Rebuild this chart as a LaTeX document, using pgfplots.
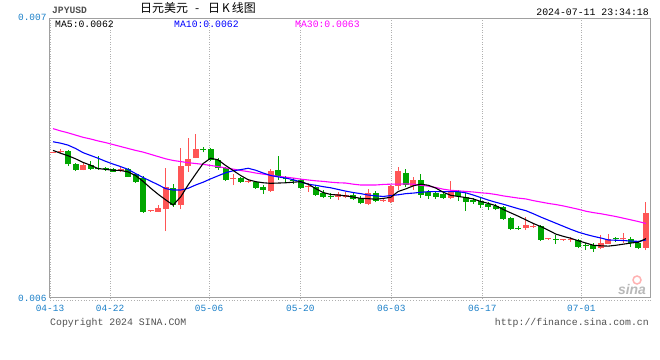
\documentclass[border=0pt]{standalone}
\usepackage{pgfplots}
\pgfplotsset{compat=1.18}
\usepackage{pgfplotstable}
\usepackage{fontspec}
\setmainfont{Liberation Sans}
\setmonofont{Liberation Mono}
\newfontfamily\cjk{Noto Sans CJK SC}
\definecolor{candlered}{RGB}{255,85,85}
\definecolor{candlegreen}{RGB}{0,166,0}
\definecolor{tickblue}{RGB}{26,127,200}
\definecolor{framegray}{RGB}{160,160,160}
\definecolor{gridgray}{RGB}{176,176,176}
\definecolor{txtgray}{RGB}{80,80,80}
\definecolor{mablue}{RGB}{0,0,255}
\definecolor{mamag}{RGB}{255,0,255}

% rising candles (red): index, open, high, low, close
\pgfplotstableread{
i o h l c
0 0.006521 0.006525 0.006520 0.006523
1 0.006522 0.006534 0.006521 0.006527
4 0.006459 0.006486 0.006457 0.006477
9 0.006455 0.006468 0.006452 0.006461
13 0.006311 0.006315 0.006310 0.006314
14 0.006309 0.006333 0.006308 0.006323
15 0.006319 0.006465 0.006240 0.006397
17 0.006333 0.006537 0.006318 0.006474
18 0.006474 0.006572 0.006453 0.006498
19 0.006503 0.006587 0.006501 0.006534
24 0.006427 0.006444 0.006405 0.006429
26 0.006415 0.006427 0.006413 0.006419
29 0.006385 0.006462 0.006381 0.006456
34 0.006399 0.006411 0.006381 0.006403
38 0.006363 0.006379 0.006351 0.006372
39 0.006361 0.006381 0.006357 0.006368
42 0.006337 0.006391 0.006333 0.006377
44 0.006348 0.006357 0.006344 0.006351
45 0.006345 0.006405 0.006339 0.006401
46 0.006401 0.006471 0.006387 0.006456
48 0.006401 0.006435 0.006387 0.006423
53 0.006360 0.006419 0.006354 0.006379
63 0.006250 0.006289 0.006244 0.006262
64 0.006256 0.006270 0.006250 0.006259
66 0.006210 0.006214 0.006209 0.006213
68 0.006207 0.006210 0.006205 0.006209
69 0.006207 0.006218 0.006200 0.006209
73 0.006178 0.006226 0.006176 0.006198
74 0.006194 0.006229 0.006193 0.006210
76 0.006210 0.006234 0.006196 0.006214
79 0.006180 0.006345 0.006172 0.006306
}\upcandles

% falling candles (green): index, open, high, low, close
\pgfplotstableread{
i o h l c
2 0.006527 0.006529 0.006473 0.006479
3 0.006480 0.006485 0.006455 0.006459
5 0.006477 0.006491 0.006459 0.006463
6 0.006465 0.006509 0.006459 0.006461
7 0.006463 0.006470 0.006456 0.006461
8 0.006462 0.006466 0.006452 0.006453
10 0.006461 0.006465 0.006433 0.006435
11 0.006443 0.006447 0.006413 0.006417
12 0.006429 0.006437 0.006306 0.006309
16 0.006393 0.006408 0.006327 0.006333
20 0.006533 0.006542 0.006522 0.006530
21 0.006534 0.006539 0.006491 0.006495
22 0.006495 0.006501 0.006459 0.006465
23 0.006465 0.006468 0.006419 0.006423
25 0.006431 0.006435 0.006412 0.006415
27 0.006415 0.006419 0.006391 0.006395
28 0.006398 0.006405 0.006372 0.006387
30 0.006459 0.006510 0.006423 0.006433
31 0.006429 0.006437 0.006416 0.006425
32 0.006423 0.006429 0.006408 0.006419
33 0.006423 0.006427 0.006391 0.006393
35 0.006399 0.006403 0.006366 0.006369
36 0.006377 0.006387 0.006357 0.006363
37 0.006367 0.006375 0.006355 0.006363
40 0.006369 0.006381 0.006351 0.006355
41 0.006360 0.006366 0.006336 0.006339
43 0.006375 0.006384 0.006343 0.006349
47 0.006449 0.006461 0.006399 0.006405
49 0.006423 0.006444 0.006360 0.006369
50 0.006381 0.006387 0.006354 0.006367
51 0.006377 0.006384 0.006354 0.006363
52 0.006372 0.006381 0.006354 0.006360
54 0.006381 0.006387 0.006349 0.006366
55 0.006363 0.006375 0.006313 0.006345
56 0.006351 0.006360 0.006337 0.006343
57 0.006349 0.006360 0.006322 0.006333
58 0.006337 0.006343 0.006315 0.006327
59 0.006330 0.006336 0.006315 0.006319
60 0.006327 0.006330 0.006280 0.006283
61 0.006286 0.006289 0.006245 0.006247
62 0.006251 0.006258 0.006244 0.006248
65 0.006259 0.006262 0.006204 0.006208
67 0.006212 0.006226 0.006193 0.006209
70 0.006208 0.006210 0.006178 0.006184
71 0.006189 0.006196 0.006172 0.006186
72 0.006190 0.006196 0.006166 0.006176
75 0.006214 0.006218 0.006202 0.006210
77 0.006210 0.006220 0.006184 0.006196
78 0.006196 0.006202 0.006175 0.006180
}\downcandles

% moving averages
\pgfplotstableread{
i ma5 ma10 ma30
0 0.006529 0.006560 0.006607
1 0.006519 0.006555 0.006599
2 0.006510 0.006548 0.006592
3 0.006499 0.006536 0.006584
4 0.006486 0.006521 0.006576
5 0.006476 0.006511 0.006570
6 0.006464 0.006501 0.006563
7 0.006461 0.006490 0.006557
8 0.006458 0.006480 0.006550
9 0.006457 0.006471 0.006543
10 0.006452 0.006461 0.006536
11 0.006439 0.006446 0.006529
12 0.006418 0.006432 0.006523
13 0.006394 0.006419 0.006515
14 0.006372 0.006406 0.006507
15 0.006352 0.006392 0.006499
16 0.006333 0.006387 0.006493
17 0.006362 0.006387 0.006489
18 0.006405 0.006393 0.006485
19 0.006444 0.006405 0.006482
20 0.006482 0.006415 0.006479
21 0.006501 0.006427 0.006475
22 0.006495 0.006438 0.006471
23 0.006475 0.006449 0.006466
24 0.006457 0.006456 0.006462
25 0.006439 0.006460 0.006457
26 0.006424 0.006465 0.006453
27 0.006417 0.006458 0.006448
28 0.006413 0.006448 0.006444
29 0.006411 0.006439 0.006440
30 0.006412 0.006434 0.006436
31 0.006413 0.006430 0.006433
32 0.006415 0.006424 0.006430
33 0.006417 0.006416 0.006426
34 0.006408 0.006408 0.006423
35 0.006392 0.006404 0.006420
36 0.006378 0.006399 0.006418
37 0.006371 0.006395 0.006415
38 0.006369 0.006389 0.006413
39 0.006366 0.006383 0.006412
40 0.006362 0.006378 0.006408
41 0.006357 0.006374 0.006405
42 0.006356 0.006369 0.006405
43 0.006354 0.006366 0.006405
44 0.006357 0.006364 0.006407
45 0.006361 0.006367 0.006408
46 0.006382 0.006370 0.006408
47 0.006391 0.006374 0.006409
48 0.006402 0.006376 0.006408
49 0.006408 0.006379 0.006404
50 0.006404 0.006381 0.006401
51 0.006394 0.006381 0.006396
52 0.006379 0.006381 0.006390
53 0.006368 0.006381 0.006386
54 0.006364 0.006381 0.006384
55 0.006360 0.006377 0.006382
56 0.006355 0.006369 0.006380
57 0.006346 0.006360 0.006377
58 0.006339 0.006351 0.006375
59 0.006331 0.006343 0.006371
60 0.006317 0.006336 0.006366
61 0.006305 0.006328 0.006362
62 0.006293 0.006320 0.006358
63 0.006280 0.006313 0.006355
64 0.006267 0.006302 0.006349
65 0.006256 0.006290 0.006344
66 0.006243 0.006279 0.006339
67 0.006229 0.006268 0.006335
68 0.006221 0.006257 0.006330
69 0.006214 0.006246 0.006324
70 0.006205 0.006236 0.006318
71 0.006197 0.006228 0.006311
72 0.006189 0.006221 0.006306
73 0.006187 0.006215 0.006302
74 0.006186 0.006208 0.006297
75 0.006189 0.006207 0.006292
76 0.006193 0.006206 0.006286
77 0.006197 0.006204 0.006280
78 0.006200 0.006203 0.006274
79 0.006213 0.006208 0.006267
}\matable

\begin{document}
\begin{tikzpicture}
\begin{axis}[
  at={(50bp,62bp)}, anchor=south west,
  scale only axis, width=600bp, height=279bp,
  xmin=-0.4, xmax=79.54, ymin=0.006, ymax=0.007,
  axis line style={draw=framegray, line width=1bp},
  xtick={-0.4,7.6,20.8,32.95,45.07,57.2,70.4},
  xticklabels={04-13,04-22,05-06,05-20,06-03,06-17,07-01},
  xmajorgrids, grid style={draw=gridgray, dotted, line width=0.8bp},
  ytick={0.006,0.007}, yticklabels={0.006,\raisebox{3bp}{0.007}},
  scaled y ticks=false,
  major tick length=0pt,
  xticklabel style={font=\fontsize{9.5}{10}\selectfont\ttfamily, text=tickblue, anchor=center, yshift=-10.5bp},
  yticklabel style={font=\fontsize{9.5}{10}\selectfont\ttfamily, text=tickblue},
  /pgf/number format/assume math mode=true,
  clip=true,
]
% wicks
\addplot[draw=none, mark=none,
  error bars/.cd, y dir=plus, y explicit, error mark=none,
  error bar style={draw=candlered, line width=1bp}]
  table[x=i, y=l, y error expr=\thisrow{h}-\thisrow{l}] {\upcandles};
\addplot[draw=none, mark=none,
  error bars/.cd, y dir=plus, y explicit, error mark=none,
  error bar style={draw=candlegreen, line width=1bp}]
  table[x=i, y=l, y error expr=\thisrow{h}-\thisrow{l}] {\downcandles};
% bodies
\addplot[draw=none, mark=none,
  error bars/.cd, y dir=plus, y explicit, error mark=none,
  error bar style={draw=candlered, line width=6bp}]
  table[x=i, y=o, y error expr={max(\thisrow{c}-\thisrow{o},0.0000035)}] {\upcandles};
\addplot[draw=none, mark=none,
  error bars/.cd, y dir=plus, y explicit, error mark=none,
  error bar style={draw=candlegreen, line width=6bp}]
  table[x=i, y=c, y error expr={max(\thisrow{o}-\thisrow{c},0.0000035)}] {\downcandles};
% moving averages
\addplot[draw=mamag, line width=1.1bp, mark=none] table[x=i, y=ma30] {\matable};
\addplot[draw=mablue, line width=1.1bp, mark=none] table[x=i, y=ma10] {\matable};
\addplot[draw=black, line width=1.1bp, mark=none] table[x=i, y=ma5] {\matable};
\end{axis}
% header texts
\node[anchor=west, font=\fontsize{9.7}{10}\selectfont\ttfamily\bfseries, text=txtgray, inner sep=0pt] at (52bp,350bp) {JPYUSD};
\node[anchor=west, font=\cjk\fontsize{12}{12}\selectfont, inner sep=0pt] at (140bp,352bp) {日元美元\hspace{7bp}-\hspace{9bp}日\hspace{2bp}K\hspace{2bp}线图};
\node[anchor=east, font=\fontsize{9.9}{10}\selectfont\ttfamily, inner sep=0pt] at (649bp,348bp) {2024-07-11 23:34:18};
\node[anchor=west, font=\fontsize{9.8}{10}\selectfont\ttfamily, inner sep=0pt] at (55bp,336bp) {MA5:0.0062};
\node[anchor=west, font=\fontsize{9.8}{10}\selectfont\ttfamily, text=mablue, inner sep=0pt] at (174bp,336bp) {MA10:0.0062};
\node[anchor=west, font=\fontsize{9.8}{10}\selectfont\ttfamily, text=mamag, inner sep=0pt] at (295bp,336bp) {MA30:0.0063};
% bottom decorations
\draw[gridgray, dotted, line width=0.8bp] (50bp,60bp) -- (652bp,60bp);
\node[anchor=west, font=\fontsize{9.9}{10}\selectfont\ttfamily, text=txtgray, inner sep=0pt] at (50bp,37bp) {Copyright 2024 SINA.COM};
\node[anchor=east, font=\fontsize{9.9}{10}\selectfont\ttfamily, text=txtgray, inner sep=0pt] at (649bp,37bp) {http://finance.sina.com.cn};
\draw[candlered!45, line width=1.5bp] (637bp,80bp) circle (4bp);
\node[font=\fontsize{14}{14}\selectfont\bfseries\itshape, text=gray!55, inner sep=0pt] at (632bp,70bp) {sina};
\pgfresetboundingbox
\useasboundingbox (0,0) rectangle (660bp,360bp);
\end{tikzpicture}
\end{document}
